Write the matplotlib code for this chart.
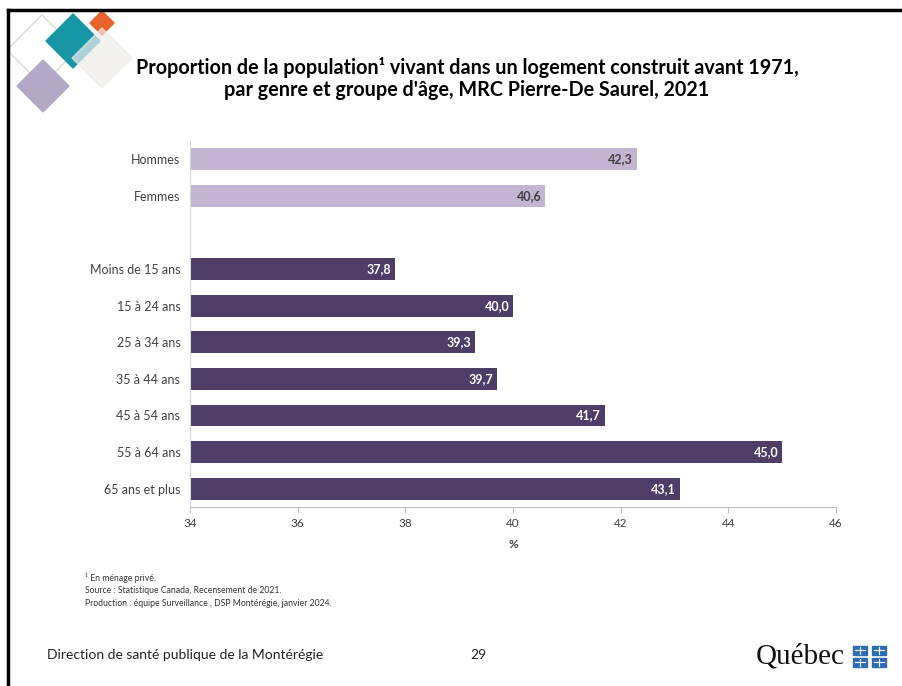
import matplotlib.pyplot as plt
from matplotlib.patches import Polygon, Rectangle
from matplotlib.lines import Line2D

plt.rcParams['font.family'] = ['Lato', 'DejaVu Sans']

genres = ["Hommes", "Femmes"]
genre_values = [42.3, 40.6]
ages = ["Moins de 15 ans", "15 à 24 ans", "25 à 34 ans", "35 à 44 ans",
        "45 à 54 ans", "55 à 64 ans", "65 ans et plus"]
age_values = [37.8, 40.0, 39.3, 39.7, 41.7, 45.0, 43.1]
x_ticks = [34, 36, 38, 40, 42, 44, 46]

LIGHT = "#C3B4D3"
DARK = "#4E3D66"
W, H = 902, 686


def fx(px):
    return px / W


def fy(py):
    return 1 - py / H


fig = plt.figure(figsize=(9.02, 6.86), dpi=100)
ax = fig.add_axes([fx(190), fy(507), fx(836) - fx(190), fy(141) - fy(507)])

# positions: genres on top, one empty slot, then age groups
genre_pos = list(range(len(genres)))
age_pos = [len(genres) + 1 + i for i in range(len(ages))]

ax.barh(genre_pos, [v - 34 for v in genre_values], left=34, height=0.6, color=LIGHT)
ax.barh(age_pos, [v - 34 for v in age_values], left=34, height=0.6, color=DARK)

for p, v in zip(genre_pos, genre_values):
    ax.text(v - 0.07, p, f"{v:.1f}".replace(".", ","), ha="right", va="center",
            fontsize=9, fontweight="bold", color="#404040")
for p, v in zip(age_pos, age_values):
    ax.text(v - 0.07, p, f"{v:.1f}".replace(".", ","), ha="right", va="center",
            fontsize=9, fontweight="bold", color="white")

ax.set_yticks(genre_pos + age_pos)
ax.set_yticklabels(genres + ages, fontsize=9, color="#404040")
ax.tick_params(axis="y", length=0, pad=7)
ax.set_ylim(max(age_pos) + 0.5, -0.5)

ax.set_xlim(34, 46)
ax.set_xticks(x_ticks)
ax.set_xticklabels([str(t) for t in x_ticks], fontsize=8.5, color="#404040")
ax.tick_params(axis="x", length=4, color="#BFBFBF", pad=4)
ax.set_xlabel("%", fontsize=8.5, fontweight="bold", color="#404040", labelpad=7)

for s in ["top", "right"]:
    ax.spines[s].set_visible(False)
ax.spines["left"].set_color("#D9D9D9")
ax.spines["bottom"].set_color("#BFBFBF")

# title
fig.text(fx(467), fy(67), "Proportion de la population\u00b9 vivant dans un logement construit avant 1971,",
         ha="center", va="center", fontsize=14.2, fontweight="bold", color="black")
fig.text(fx(467), fy(90), "par genre et groupe d'âge, MRC Pierre-De Saurel, 2021",
         ha="center", va="center", fontsize=14.2, fontweight="bold", color="black")

# notes
notes = ["\u00b9 En ménage privé.",
         "Source : Statistique Canada, Recensement de 2021.",
         "Production : équipe Surveillance , DSP Montérégie, janvier 2024."]
for i, n in enumerate(notes):
    fig.text(fx(85), fy(578 + i * 12.5), n, ha="left", va="center", fontsize=6.2, color="#333333")

fig.text(fx(47), fy(655), "Direction de santé publique de la Montérégie", ha="left", va="center",
         fontsize=10, color="#222222")
fig.text(fx(478), fy(655), "29", ha="center", va="center", fontsize=10, color="#222222")

# Québec logo
fig.text(fx(756), fy(657), "Québec", ha="left", va="center", fontsize=21,
         family="Liberation Serif", color="#111111")
for cx, cy in [(860, 650), (879, 650), (860, 662), (879, 662)]:
    fig.patches.append(Rectangle((fx(cx - 7), fy(cy + 4.5)), fx(14), fy(0) - fy(9),
                                 transform=fig.transFigure, color="#2E6DB4"))
    fig.lines.append(Line2D([fx(cx - 5), fx(cx + 5)], [fy(cy), fy(cy)],
                            transform=fig.transFigure, color="white", lw=0.8))
    fig.lines.append(Line2D([fx(cx), fx(cx)], [fy(cy - 3.5), fy(cy + 3.5)],
                            transform=fig.transFigure, color="white", lw=0.8))


def diamond(cx, cy, r, **kw):
    pts = [(fx(cx), fy(cy - r)), (fx(cx + r), fy(cy)), (fx(cx), fy(cy + r)), (fx(cx - r), fy(cy))]
    fig.patches.append(Polygon(pts, closed=True, transform=fig.transFigure, **kw))


# decorative corner
diamond(42, 50, 35, fill=False, edgecolor="#D5DCD0", lw=1)
diamond(43, 86, 26, color="#B3A9C6")
diamond(73, 41, 27, color="#1797A6")
diamond(102, 23, 12, color="#E8622A")
diamond(102, 58, 30, color="#EEEBEA", alpha=0.7)

# frame
fig.lines.append(Line2D([fx(8), fx(902)], [fy(10), fy(10)], transform=fig.transFigure, color="black", lw=2.5))
fig.lines.append(Line2D([fx(8), fx(8)], [fy(10), fy(686)], transform=fig.transFigure, color="black", lw=2.5))

fig.savefig("out.png", dpi=100)
